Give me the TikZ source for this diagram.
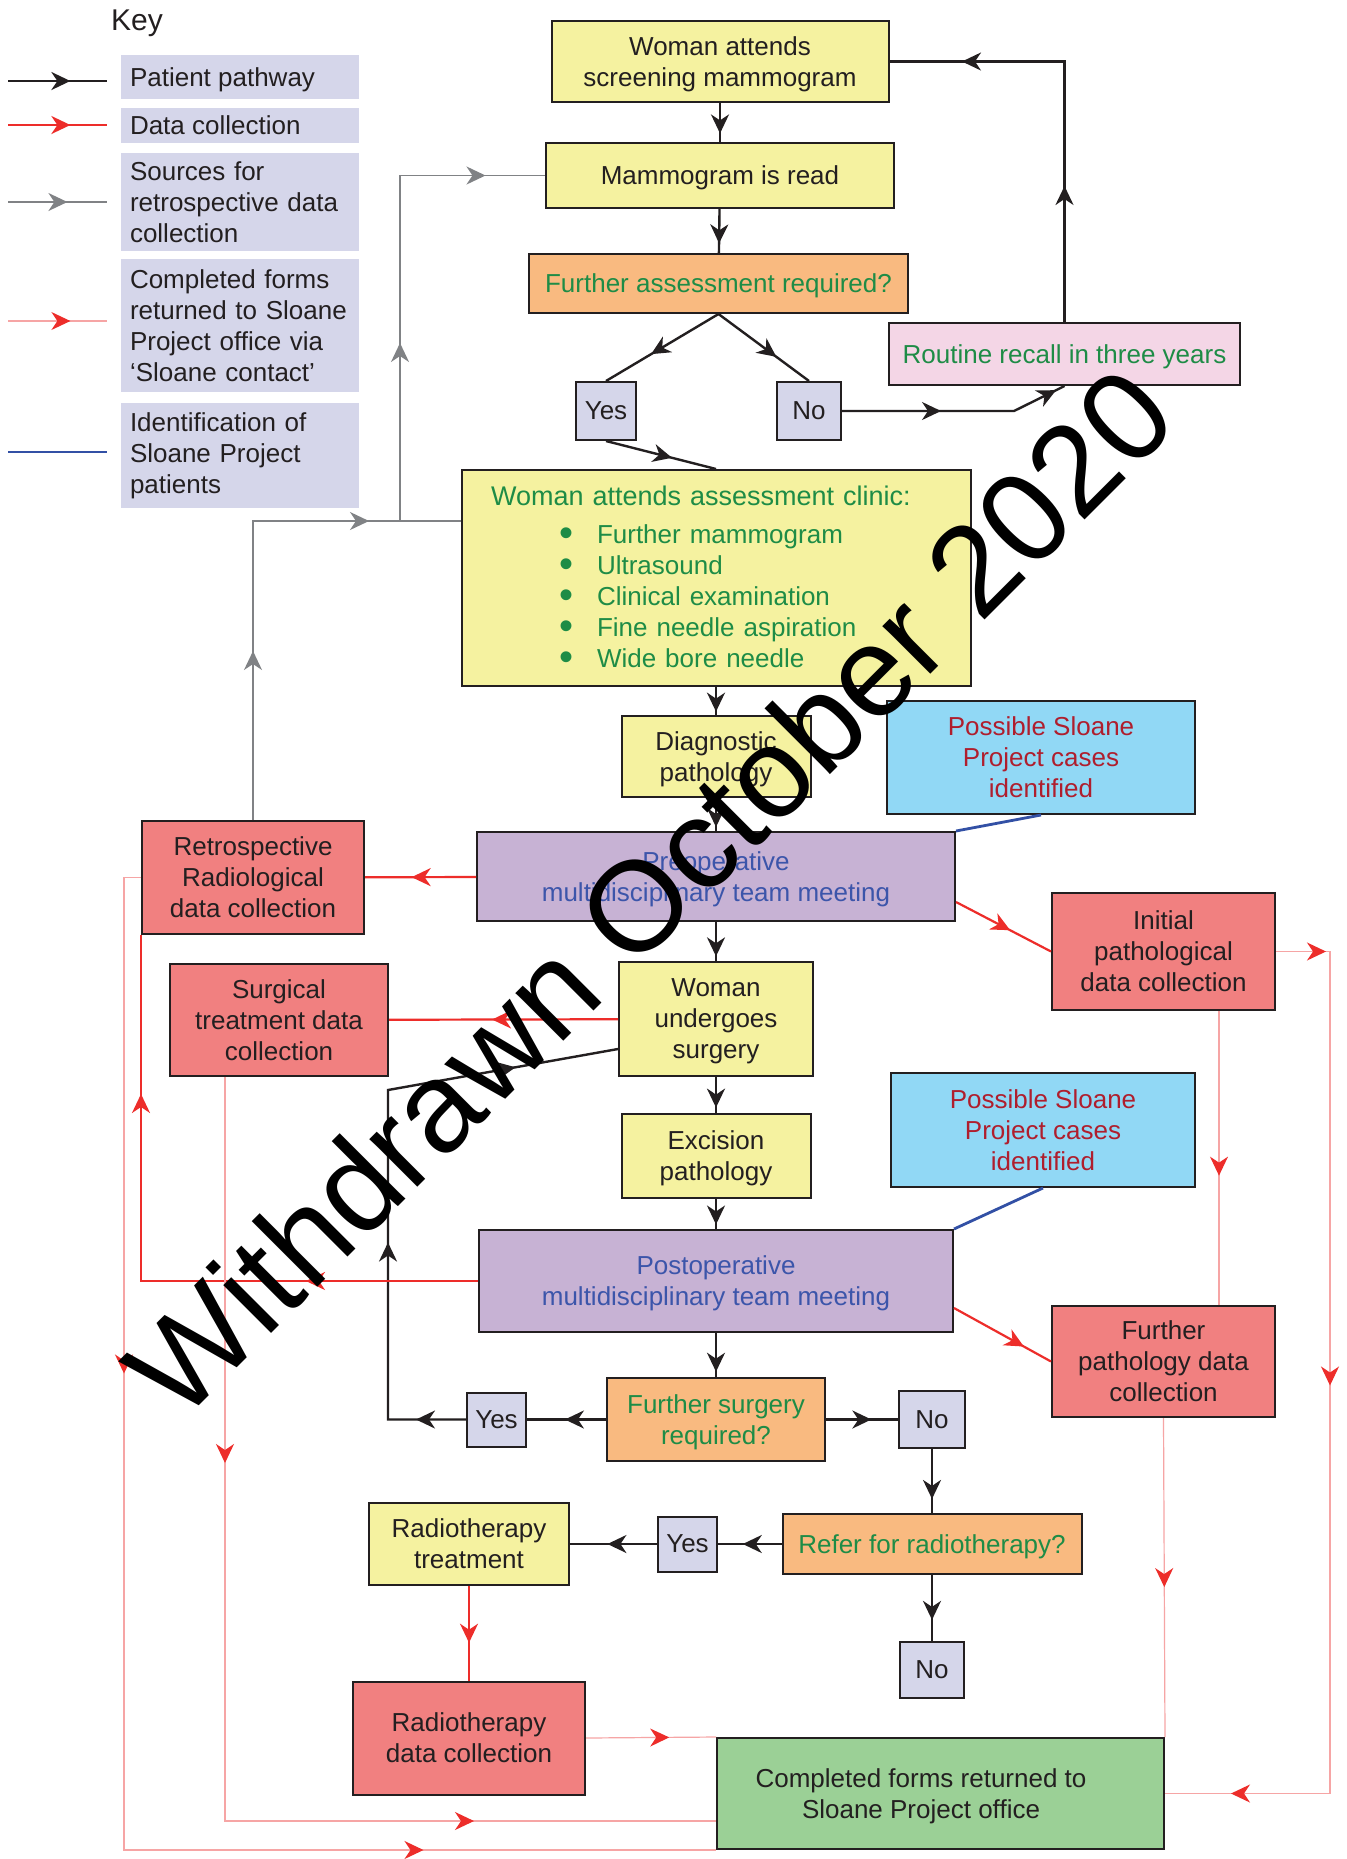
\documentclass[tikz,border=0pt]{standalone}
\usepackage{fontspec}
\setmainfont{Liberation Sans}
\usetikzlibrary{arrows.meta,decorations.markings}

\definecolor{ink}{RGB}{35,31,32}
\definecolor{yel}{RGB}{245,242,160}
\definecolor{ora}{RGB}{249,186,128}
\definecolor{pnk}{RGB}{244,214,230}
\definecolor{lav}{RGB}{213,214,234}
\definecolor{sky}{RGB}{145,216,245}
\definecolor{pur}{RGB}{199,178,212}
\definecolor{sal}{RGB}{241,128,128}
\definecolor{grn}{RGB}{155,208,150}
\definecolor{gtxt}{RGB}{30,140,70}
\definecolor{rtxt}{RGB}{175,30,45}
\definecolor{btxt}{RGB}{60,85,170}
\definecolor{dred}{RGB}{237,45,42}
\definecolor{lred}{RGB}{246,165,165}
\definecolor{gry}{RGB}{128,130,133}
\definecolor{blu}{RGB}{50,80,165}

\newcommand{\blt}{\makebox[10pt]{\fontsize{20}{20}\selectfont\raisebox{-1.5pt}{\textbullet}}}
\newcommand{\clinicitem}{\hspace*{32.5pt}\blt\hspace{10.5pt}\fontsize{13}{15.5}\selectfont}

\tikzset{
  frame/.style={draw=ink, line width=1pt, inner sep=0pt, text=ink},
  box/.style={frame, align=center, text depth=0pt},
  sz/.style 2 args={minimum width=#1, minimum height=#2},
  keybox/.style={fill=lav, inner xsep=4.5pt, inner ysep=0pt, text width=110pt, align=left, text=ink, minimum height=#1},
  keyline/.style={fill=lav, inner xsep=4.5pt, inner ysep=0pt, text depth=0pt, text=ink, minimum height=#1},
  tip/.style={postaction={decorate, decoration={markings, mark=at position #1 with {\arrow{Stealth[length=9.5pt,width=9pt,inset=3pt]}}}}},
  rtip/.style={postaction={decorate, decoration={markings, mark=at position #1 with {\arrow{Stealth[length=9.5pt,width=9pt,inset=3pt,color=dred]}}}}},
  pathway/.style={draw=ink, line width=1.2pt},
  collect/.style={draw=dred, line width=1.1pt},
  returned/.style={draw=lred, line width=0.6pt},
  sources/.style={draw=gry, line width=0.9pt},
  ident/.style={draw=blu, line width=1.4pt},
}

\begin{document}
\begin{tikzpicture}[x=0.5pt, y=-0.5pt, every node/.style={font=\fontsize{13}{15.5}\selectfont}]
\path[use as bounding box, fill=white] (0,0) rectangle (1346,1859);

\node[font=\fontsize{15}{18}\selectfont, text=ink] (key) at (137,23) {Key};
\node[keyline=22pt] (lg1) at (240,77) {\makebox[110pt][l]{Patient pathway}};
\node[keyline=17.5pt] (lg2) at (240,125.5) {\makebox[110pt][l]{Data collection}};
\node[keybox=49pt] (lg3) at (240,202) {Sources for\\retrospective data\\collection};
\node[keybox=66.5pt] (lg4) at (240,325.5) {Completed forms\\returned to Sloane\\Project office via\\`Sloane contact'};
\node[keybox=52.5pt] (lg5) at (240,455.5) {Identification of\\Sloane Project\\patients};

\coordinate (k1a) at (8,81);  \coordinate (k1b) at (107,81);
\coordinate (k2a) at (8,125); \coordinate (k2b) at (107,125);
\coordinate (k3a) at (8,202); \coordinate (k3b) at (107,202);
\coordinate (k4a) at (8,321); \coordinate (k4b) at (107,321);
\coordinate (k5a) at (8,452); \coordinate (k5b) at (107,452);
\draw[pathway, tip=0.63] (k1a) -- (k1b);
\draw[collect, tip=0.63] (k2a) -- (k2b);
\draw[sources, tip=0.6] (k3a) -- (k3b);
\draw[returned, rtip=0.63] (k4a) -- (k4b);
\draw[ident] (k5a) -- (k5b);

\node[box, fill=yel, sz={168.5pt}{40.5pt}] (scr) at (720,61.5) {Woman attends\\screening mammogram};
\node[box, fill=yel, sz={174pt}{32.5pt}] (read) at (720,175.5) {Mammogram is read};
\node[box, fill=ora, sz={189.5pt}{29.5pt}, text=gtxt] (fa) at (718.5,283.5) {Further assessment required?};
\node[box, fill=lav, sz={30pt}{29pt}] (yes1) at (606,411) {Yes};
\node[box, fill=lav, sz={32pt}{29pt}] (no1) at (809,411) {No};
\node[box, fill=pnk, sz={175.5pt}{31pt}, text=gtxt] (rr) at (1064.5,354) {Routine recall in three years};
\node[frame, fill=yel, sz={254.5pt}{108pt}, text=gtxt, align=left, text width=225pt, font=\fontsize{13.5}{15.5}\selectfont] (clinic) at (716,578)
  {Woman attends assessment clinic:\\[3.5pt]
   \clinicitem Further mammogram\\
   \clinicitem Ultrasound\\
   \clinicitem Clinical examination\\
   \clinicitem Fine needle aspiration\\
   \clinicitem Wide bore needle};
\node[box, fill=yel, sz={94.5pt}{40.5pt}] (diag) at (716,756.5) {Diagnostic\\pathology};
\node[box, fill=sky, sz={154pt}{56.5pt}, text=rtxt] (ps1) at (1041,757.5) {Possible Sloane\\Project cases\\identified};
\node[box, fill=pur, sz={239pt}{44.5pt}, text=btxt] (pre) at (716,876.5) {Preoperative\\multidisciplinary team meeting};
\node[box, fill=sal, sz={111pt}{56.5pt}] (retro) at (253,877.5) {Retrospective\\Radiological\\data collection};
\node[box, fill=sal, sz={111.5pt}{58.5pt}] (init) at (1163.5,951.5) {Initial\\pathological\\data collection};
\node[box, fill=yel, sz={97pt}{57pt}] (surg) at (716,1019) {Woman\\undergoes\\surgery};
\node[box, fill=sal, sz={109pt}{56pt}] (stdc) at (279,1020) {Surgical\\treatment data\\collection};
\node[box, fill=yel, sz={94.5pt}{42pt}] (exc) at (716,1156) {Excision\\pathology};
\node[box, fill=sky, sz={152pt}{57pt}, text=rtxt] (ps2) at (1043,1130) {Possible Sloane\\Project cases\\identified};
\node[box, fill=pur, sz={237pt}{51pt}, text=btxt] (post) at (716,1281) {Postoperative\\multidisciplinary team meeting};
\node[box, fill=sal, sz={111.5pt}{55.5pt}] (fp) at (1163.5,1361.5) {Further\\pathology data\\collection};
\node[box, fill=ora, sz={109pt}{41.5pt}, text=gtxt] (fs) at (716,1419.5) {Further surgery\\required?};
\node[box, fill=lav, sz={29.5pt}{27pt}] (yes2) at (496.5,1419.5) {Yes};
\node[box, fill=lav, sz={33pt}{28.5pt}] (no2) at (932,1419.5) {No};
\node[box, fill=ora, sz={149.5pt}{30pt}, text=gtxt] (refer) at (932,1544) {Refer for radiotherapy?};
\node[box, fill=lav, sz={29.5pt}{27.5pt}] (yes3) at (687.5,1544) {Yes};
\node[box, fill=yel, sz={100pt}{41pt}] (rt) at (469,1544) {Radiotherapy\\treatment};
\node[box, fill=lav, sz={32pt}{28pt}] (no3) at (932,1670) {No};
\node[box, fill=sal, sz={116pt}{56.5pt}] (rdc) at (469,1738) {Radiotherapy\\data collection};
\node[box, fill=grn, sz={223.5pt}{55.5pt}] (done) at (940.5,1793.5) {};
\node[align=center, inner sep=0pt, text=ink, text depth=0pt] (donetxt) at (921,1793.5) {Completed forms returned to\\Sloane Project office};

\coordinate (nb) at (1014,411);
\coordinate (lp) at (388,1090);
\coordinate (rl) at (124,877.5);
\coordinate (ir) at (1330,951.5);
\coordinate (gj) at (400,521);

\draw[pathway, tip=0.78] (scr) -- (read);
\draw[pathway, tip=0.78] (read) -- (fa);
\draw[pathway, tip=0.6] (fa.south) -- (yes1.north);
\draw[pathway, tip=0.64] (fa.south) -- (no1.north);
\draw[pathway, tip=0.6] (yes1.south) -- (clinic.north);
\draw[pathway, tip=49.5pt, tip=109.5pt] (no1) -- (nb) -- (rr.south);
\draw[pathway, tip=68pt, tip=181.5pt] (rr.north) |- (scr.east);
\draw[pathway, tip=0.88] (clinic) -- (diag);
\draw[pathway, tip=0.88] (diag) -- (pre);
\draw[pathway, tip=0.88] (pre) -- (surg);
\draw[pathway, tip=0.85] (surg) -- (exc);
\draw[pathway, tip=0.85] (exc) -- (post);
\draw[pathway, tip=0.88] (post) -- (fs);
\draw[pathway, tip=0.52] (fs) -- (yes2);
\draw[pathway, tip=25pt, tip=127.5pt, tip=268.5pt] (yes2.west) -| (lp) -- ([yshift=-15pt]surg.west);
\draw[pathway, tip=0.63] (fs) -- (no2);
\draw[pathway, tip=0.78] (no2) -- (refer);
\draw[pathway, tip=0.61] (refer) -- (yes3);
\draw[pathway, tip=0.57] (yes3) -- (rt);
\draw[pathway, tip=0.68] (refer) -- (no3);

\draw[collect, tip=0.58] (pre) -- (retro);
\draw[collect, tip=0.57] ([yshift=-12.75pt]pre.east) -- (init.west);
\draw[collect, tip=0.55] (surg) -- (stdc);
\draw[collect, tip=86pt, tip=262pt] (post.west) -| (retro.south west);
\draw[collect, tip=0.72] ([yshift=-13.5pt]post.east) -- (fp.west);
\draw[collect, tip=0.6] (rt) -- (rdc);

\draw[returned, rtip=0.64] (rdc.east) -- (done.north west);
\draw[returned, rtip=193pt, rtip=496.5pt] ([xshift=-27pt]stdc.south) |- ([yshift=-13.75pt]done.west);
\draw[returned, rtip=256.5pt, rtip=644.5pt] (retro.west) -- (rl) |- (done.south west);
\draw[returned, rtip=25pt, rtip=244pt, rtip=497.5pt] (init.east) -- (ir) |- (done.east);
\draw[returned, rtip=0.56] ([xshift=27.75pt]init.south) -- ([xshift=27.75pt]fp.north);
\draw[returned, rtip=0.53] (fp.south) -- (done.north east);

\draw[sources, tip=84.5pt, tip=207.5pt] (retro.north) |- ([yshift=28.5pt]clinic.west);
\draw[sources, tip=89pt, tip=215.5pt] (gj) |- (read.west);

\draw[ident] (pre.north east) -- (ps1.south);
\draw[ident] (post.north east) -- (ps2.south);

\node[rotate=45, anchor=base, inner sep=0pt, text=black, font=\fontsize{64}{64}\selectfont] (wm) at (681,924) {Withdrawn October 2020};
\end{tikzpicture}
\end{document}
